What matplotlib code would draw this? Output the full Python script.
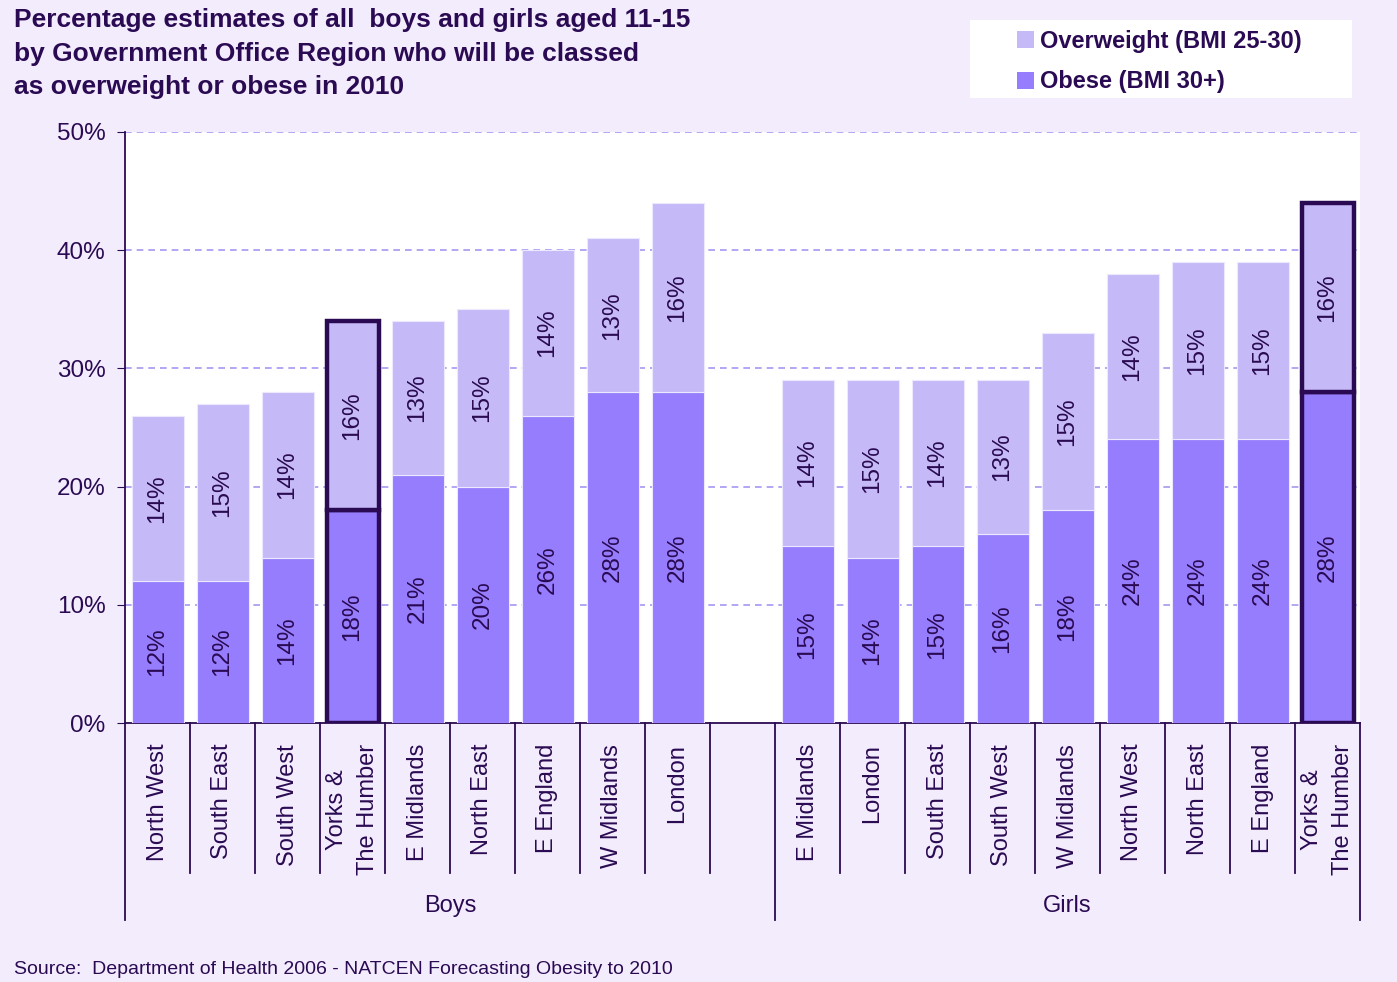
'''
Stacked bar chart: boys and girls aged 11-15 classed as
overweight or obese in 2010, by Government Office Region
'''

# importing libraries and defining constants
import matplotlib.pyplot as plt
from matplotlib.patches import Patch, Rectangle

plt.rcParams['font.family'] = ['Liberation Sans', 'DejaVu Sans']

BG = "#f2ecfc"
LIGHT = "#c5baf7"
DARK = "#957dfe"
INK = "#2a0a52"
GRID = "#a596f2"

BOYS_REGIONS = ["North West", "South East", "South West", "Yorks &\nThe Humber",
                "E Midlands", "North East", "E England", "W Midlands", "London"]
BOYS_OBESE = [12, 12, 14, 18, 21, 20, 26, 28, 28]
BOYS_OVER = [14, 15, 14, 16, 13, 15, 14, 13, 16]

GIRLS_REGIONS = ["E Midlands", "London", "South East", "South West", "W Midlands",
                 "North West", "North East", "E England", "Yorks &\nThe Humber"]
GIRLS_OBESE = [15, 14, 15, 16, 18, 24, 24, 24, 28]
GIRLS_OVER = [14, 15, 14, 13, 15, 14, 15, 15, 16]

HIGHLIGHT = "Yorks &\nThe Humber"
Y_TICKS = [0, 10, 20, 30, 40, 50]


def draw_group(ax, start, regions, obese, over):
    """
    :param ax: axes to draw on
    :param start: slot index of the first bar
    :param regions: list of region names
    :param obese: obese percentages
    :param over: overweight percentages
    Does: draws stacked bars with rotated value labels
    """
    for i in range(len(regions)):
        x = start + i
        if regions[i] == HIGHLIGHT:
            edge, lw = INK, 3.2
        else:
            edge, lw = "#ece8fd", 0.8
        ax.bar(x, obese[i], 0.8, color=DARK, edgecolor=edge, linewidth=lw, zorder=3)
        ax.bar(x, over[i], 0.8, bottom=obese[i], color=LIGHT,
               edgecolor=edge, linewidth=lw, zorder=3)
        ax.text(x, obese[i] / 2, f"{obese[i]}%", rotation=90, ha="center",
                va="center", fontsize=17.5, color=INK, zorder=4)
        ax.text(x, obese[i] + over[i] / 2, f"{over[i]}%", rotation=90,
                ha="center", va="center", fontsize=17.5, color=INK, zorder=4)


def main():
    fig = plt.figure(figsize=(13.97, 9.82), dpi=100, facecolor=BG)
    ax = fig.add_axes([125 / 1397, 1 - 723 / 982, 1235 / 1397, 591 / 982])
    ax.set_facecolor("white")

    gap = len(BOYS_REGIONS)
    girls_start = gap + 1
    draw_group(ax, 0, BOYS_REGIONS, BOYS_OBESE, BOYS_OVER)
    draw_group(ax, girls_start, GIRLS_REGIONS, GIRLS_OBESE, GIRLS_OVER)
    n_slots = girls_start + len(GIRLS_REGIONS)

    ax.set_xlim(-0.5, n_slots - 0.5)
    ax.set_ylim(0, 50)
    ax.set_yticks(Y_TICKS)
    ax.set_yticklabels([f"{t}%" for t in Y_TICKS])
    ax.tick_params(axis="y", length=6, color=INK, labelcolor=INK,
                   labelsize=17.5, pad=8)
    for t in Y_TICKS[1:]:
        ax.axhline(t, color=GRID, linestyle=(0, (4, 3)), linewidth=1.2, zorder=1)

    # category labels under each bar
    labels = BOYS_REGIONS + [""] + GIRLS_REGIONS
    ax.set_xticks(range(n_slots))
    ax.set_xticklabels(labels, rotation=90, va="top", ha="center",
                       multialignment="center", linespacing=1.5)
    ax.tick_params(axis="x", length=0, labelsize=17, labelcolor=INK, pad=15)

    for s in ["top", "right"]:
        ax.spines[s].set_visible(False)
    ax.spines["left"].set_color(INK)
    ax.spines["bottom"].set_color(INK)
    ax.spines["left"].set_linewidth(1.3)
    ax.spines["bottom"].set_linewidth(1.3)

    # separator lines between categories and groups
    trans = ax.get_xaxis_transform()
    group_edges = [-0.5, gap + 0.5, n_slots - 0.5]
    for i in range(n_slots + 1):
        xb = i - 0.5
        bottom = -0.333 if xb in group_edges else -0.254
        ax.plot([xb, xb], [0, bottom], color=INK, linewidth=1.3,
                transform=trans, clip_on=False)

    ax.text((group_edges[0] + group_edges[1]) / 2, -0.31, "Boys", transform=trans,
            ha="center", va="center", fontsize=17, color=INK)
    ax.text((group_edges[1] + group_edges[2]) / 2, -0.31, "Girls",
            transform=trans, ha="center", va="center", fontsize=17, color=INK)

    fig.text(14 / 1397, 1 - 8 / 982,
             "Percentage estimates of all  boys and girls aged 11-15\n"
             "by Government Office Region who will be classed\n"
             "as overweight or obese in 2010",
             ha="left", va="top", fontsize=19, fontweight="bold",
             color=INK, linespacing=1.5)

    fig.text(14 / 1397, 1 - 970 / 982,
             "Source:  Department of Health 2006 - NATCEN Forecasting Obesity to 2010",
             ha="left", va="center", fontsize=14, color=INK)

    # white legend box drawn separately for the wide side padding
    fig.patches.append(Rectangle((970 / 1397, 1 - 98 / 982), 382 / 1397, 78 / 982,
                                 transform=fig.transFigure, facecolor="white",
                                 edgecolor="none", zorder=0))
    handles = [Patch(facecolor=LIGHT, label="Overweight (BMI 25-30)"),
               Patch(facecolor=DARK, label="Obese (BMI 30+)")]
    leg = fig.legend(handles=handles, loc="upper left",
                     bbox_to_anchor=(1012 / 1397, 1 - 25 / 982),
                     frameon=False, handlelength=0.75, handleheight=0.75,
                     handletextpad=0.25, borderpad=0.2, labelspacing=0.75,
                     borderaxespad=0, prop={"size": 17, "weight": "bold"})
    for text in leg.get_texts():
        text.set_color(INK)

    plt.savefig("out.png", dpi=100, facecolor=BG)


if __name__ == "__main__":
    main()
